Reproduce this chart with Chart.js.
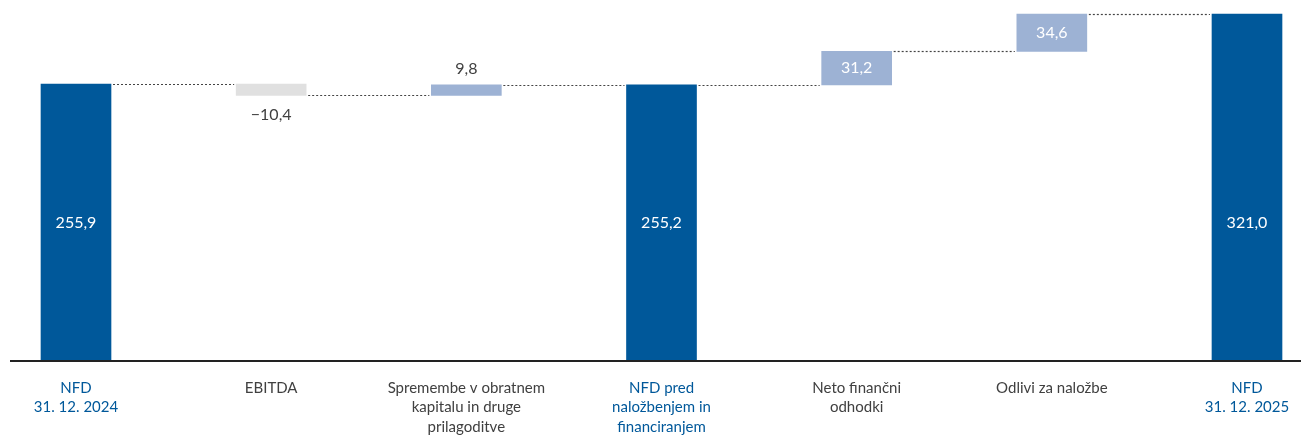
<!DOCTYPE html>
<html>
<head>
<meta charset="utf-8">
<script src="https://cdn.jsdelivr.net/npm/chart.js@4"></script>
<style>
  html, body { margin: 0; padding: 0; background: #fff; }
  #wrap { width: 1301px; height: 436px; position: relative; }
</style>
</head>
<body>
<div id="wrap"><canvas id="myChart"></canvas></div>
<script>
// categories (multi-line labels)
const categories = [
    ['NFD', '31. 12. 2024'],
    ['EBITDA'],
    ['Spremembe v obratnem', 'kapitalu in druge', 'prilagoditve'],
    ['NFD pred', 'naložbenjem in', 'financiranjem'],
    ['Neto finančni', 'odhodki'],
    ['Odlivi za naložbe'],
    ['NFD', '31. 12. 2025']
];
// values: totals are absolute, others are changes
const values = [255.9, -10.4, 9.8, 255.2, 31.2, 34.6, 321.0];
const isTotal = [true, false, false, true, false, false, true];
const valueLabels = ['255,9', '\u221210,4', '9,8', '255,2', '31,2', '34,6', '321,0'];

const dark = '#00589a';
const light = '#9db2d4';
const grey = '#e0e0e0';

// build floating ranges
const ranges = [];
const levels = [];
let level = 0;
values.forEach(function (v, i) {
    if (isTotal[i]) {
        ranges.push([0, v]);
        level = v;
    } else {
        ranges.push([level, level + v]);
        level = level + v;
    }
    levels.push(level);
});

const colors = values.map(function (v, i) {
    if (isTotal[i]) return dark;
    return v < 0 ? grey : light;
});

// dotted connectors + value labels
const waterfallPlugin = {
    id: 'waterfall',
    afterDatasetsDraw: function (chart) {
        const ctx = chart.ctx;
        const meta = chart.getDatasetMeta(0);
        const y = chart.scales.y;
        ctx.save();
        ctx.strokeStyle = '#444';
        ctx.lineWidth = 1.2;
        ctx.setLineDash([2, 2]);
        for (let i = 0; i < meta.data.length - 1; i++) {
            const a = meta.data[i], b = meta.data[i + 1];
            const yy = Math.round(y.getPixelForValue(levels[i])) + 0.5;
            ctx.beginPath();
            ctx.moveTo(a.x + a.width / 2 + 2, yy);
            ctx.lineTo(b.x - b.width / 2 - 2, yy);
            ctx.stroke();
        }
        ctx.setLineDash([]);
        ctx.font = '16px Lato';
        ctx.textAlign = 'center';
        ctx.textBaseline = 'middle';
        meta.data.forEach(function (bar, i) {
            const top = Math.min(bar.y, bar.base);
            const bottom = Math.max(bar.y, bar.base);
            if (isTotal[i]) {
                ctx.fillStyle = '#fff';
                ctx.fillText(valueLabels[i], bar.x, bar.base - 137);
            } else if (Math.abs(values[i]) > 20) {
                ctx.fillStyle = '#fff';
                ctx.fillText(valueLabels[i], bar.x, (top + bottom) / 2);
            } else if (values[i] < 0) {
                ctx.fillStyle = '#404040';
                ctx.fillText(valueLabels[i], bar.x, bottom + 19);
            } else {
                ctx.fillStyle = '#404040';
                ctx.fillText(valueLabels[i], bar.x, top - 16);
            }
        });
        ctx.restore();
    }
};

// baseline across whole width
const baselinePlugin = {
    id: 'baseline',
    afterDatasetsDraw: function (chart) {
        const ctx = chart.ctx;
        const yy = chart.scales.y.getPixelForValue(0);
        ctx.save();
        ctx.strokeStyle = '#222';
        ctx.lineWidth = 2;
        ctx.beginPath();
        ctx.moveTo(10, yy + 1);
        ctx.lineTo(chart.width, yy + 1);
        ctx.stroke();
        ctx.restore();
    }
};

const myChart = new Chart(document.getElementById('myChart'), {
    type: 'bar',
    data: {
        labels: categories,
        datasets: [{
            data: ranges,
            backgroundColor: colors,
            barThickness: 70,
            borderSkipped: false,
            clip: false
        }]
    },
    options: {
        responsive: true,
        maintainAspectRatio: false,
        animation: false,
        layout: { padding: { left: 76, right: 54, top: 0, bottom: 0 } },
        plugins: { legend: { display: false }, tooltip: { enabled: false } },
        scales: {
            x: {
                offset: false,
                grid: { display: false, drawTicks: false },
                border: { display: false },
                ticks: {
                    autoSkip: false,
                    maxRotation: 0,
                    padding: 18,
                    font: { family: 'Lato', size: 15, lineHeight: 1.3 },
                    color: function (c) { return isTotal[c.index] ? dark : '#404040'; }
                },
                afterFit: function (scale) {
                    scale.height = 76;
                    scale.paddingLeft = 0;
                    scale.paddingRight = 0;
                }
            },
            y: {
                display: false,
                min: 0,
                max: 334
            }
        }
    },
    plugins: [waterfallPlugin, baselinePlugin]
});
</script>
</body>
</html>
